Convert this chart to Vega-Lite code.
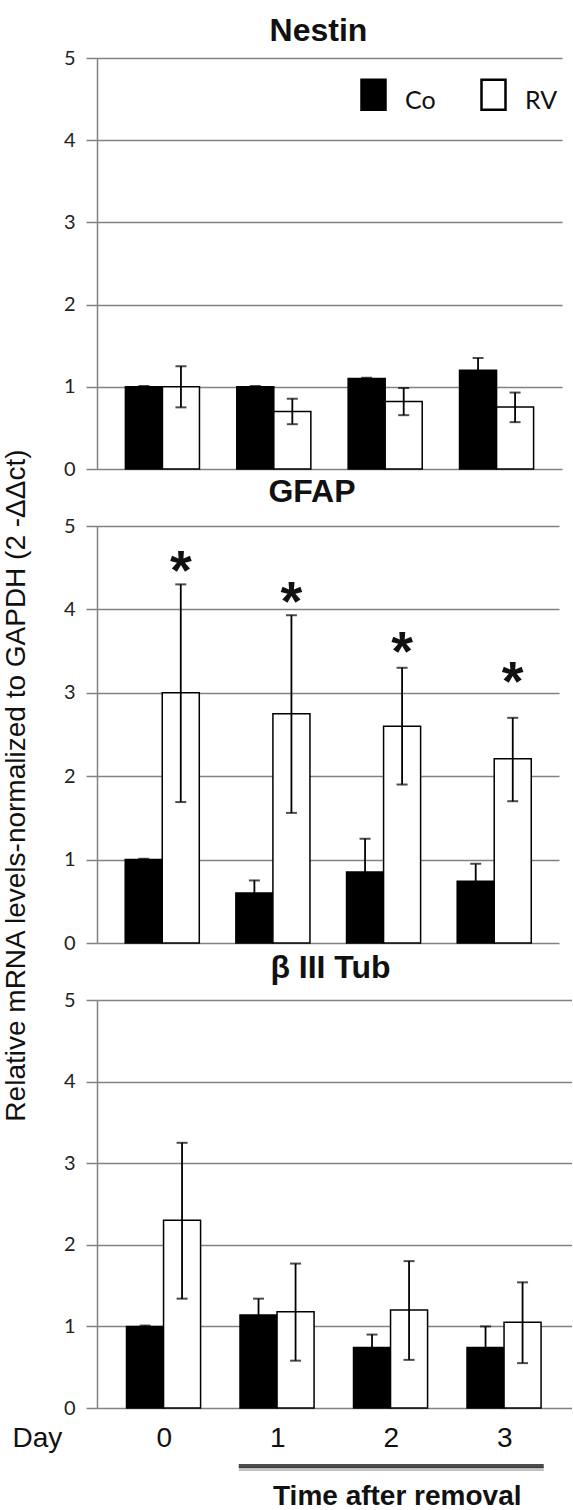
{
  "$schema": "https://vega.github.io/schema/vega-lite/v6.json",
  "background": "white",
  "padding": {"left": 2, "top": 15, "right": 0, "bottom": 0},
  "config": {
    "view": {"stroke": null},
    "font": "Liberation Sans",
    "axisY": {
      "grid": true,
      "gridColor": "#828282",
      "gridWidth": 1.5,
      "domainColor": "#828282",
      "domainWidth": 1.5,
      "tickColor": "#828282",
      "tickWidth": 1.5,
      "tickSize": 11,
      "labelFont": "Lato",
      "labelFontSize": 20,
      "labelColor": "#222222",
      "labelPadding": 11
    }
  },
  "datasets": {
    "expr": [
      {"gene": "Nestin", "day": "0", "group": "Co", "mean": 1.0, "lo": 0.99, "hi": 1.01},
      {"gene": "Nestin", "day": "0", "group": "RV", "mean": 1.0, "lo": 0.75, "hi": 1.25},
      {"gene": "Nestin", "day": "1", "group": "Co", "mean": 1.0, "lo": 0.99, "hi": 1.01},
      {"gene": "Nestin", "day": "1", "group": "RV", "mean": 0.70, "lo": 0.545, "hi": 0.855},
      {"gene": "Nestin", "day": "2", "group": "Co", "mean": 1.10, "lo": 1.09, "hi": 1.11},
      {"gene": "Nestin", "day": "2", "group": "RV", "mean": 0.82, "lo": 0.655, "hi": 0.985},
      {"gene": "Nestin", "day": "3", "group": "Co", "mean": 1.20, "lo": 1.05, "hi": 1.35},
      {"gene": "Nestin", "day": "3", "group": "RV", "mean": 0.755, "lo": 0.57, "hi": 0.93},
      {"gene": "GFAP", "day": "0", "group": "Co", "mean": 1.0, "lo": 0.99, "hi": 1.01},
      {"gene": "GFAP", "day": "0", "group": "RV", "mean": 3.0, "lo": 1.69, "hi": 4.30, "star": 4.62},
      {"gene": "GFAP", "day": "1", "group": "Co", "mean": 0.60, "lo": 0.45, "hi": 0.75},
      {"gene": "GFAP", "day": "1", "group": "RV", "mean": 2.75, "lo": 1.56, "hi": 3.93, "star": 4.25},
      {"gene": "GFAP", "day": "2", "group": "Co", "mean": 0.85, "lo": 0.45, "hi": 1.25},
      {"gene": "GFAP", "day": "2", "group": "RV", "mean": 2.60, "lo": 1.90, "hi": 3.30, "star": 3.65},
      {"gene": "GFAP", "day": "3", "group": "Co", "mean": 0.74, "lo": 0.53, "hi": 0.95},
      {"gene": "GFAP", "day": "3", "group": "RV", "mean": 2.21, "lo": 1.70, "hi": 2.70, "star": 3.28},
      {"gene": "bIII", "day": "0", "group": "Co", "mean": 1.0, "lo": 0.99, "hi": 1.01},
      {"gene": "bIII", "day": "0", "group": "RV", "mean": 2.30, "lo": 1.34, "hi": 3.25},
      {"gene": "bIII", "day": "1", "group": "Co", "mean": 1.14, "lo": 0.94, "hi": 1.34},
      {"gene": "bIII", "day": "1", "group": "RV", "mean": 1.18, "lo": 0.58, "hi": 1.77},
      {"gene": "bIII", "day": "2", "group": "Co", "mean": 0.74, "lo": 0.58, "hi": 0.90},
      {"gene": "bIII", "day": "2", "group": "RV", "mean": 1.20, "lo": 0.59, "hi": 1.80},
      {"gene": "bIII", "day": "3", "group": "Co", "mean": 0.74, "lo": 0.48, "hi": 1.00},
      {"gene": "bIII", "day": "3", "group": "RV", "mean": 1.05, "lo": 0.55, "hi": 1.54}
    ]
  },
  "bounds": "flush",
  "spacing": 57,
  "resolve": {"scale": {"fill": "independent"}, "legend": {"fill": "independent"}},
  "vconcat": [
    {
      "title": {"text": "Nestin", "fontSize": 32, "font": "Liberation Sans", "fontWeight": "bold", "color": "#111111", "baseline": "alphabetic", "offset": -25, "dx": -11},
      "width": 465,
      "height": 411,
      "data": {"name": "expr"},
      "transform": [{"filter": "datum.gene === 'Nestin'"}],
      "encoding": {
        "x": {"field": "day", "type": "nominal", "sort": ["0", "1", "2", "3"], "scale": {"paddingInner": 0.335, "paddingOuter": 0.255}, "axis": null}
      },
      "layer": [
        {
          "mark": {"type": "bar", "stroke": "black", "strokeWidth": 1.5},
          "encoding": {
            "xOffset": {"field": "group", "type": "nominal", "sort": ["Co", "RV"]},
            "y": {"field": "mean", "type": "quantitative", "scale": {"domain": [0, 5], "nice": false},
              "axis": {"values": [0, 1, 2, 3, 4, 5], "format": "d",
                "title": "Relative mRNA levels-normalized to GAPDH (2 -ΔΔct)", "titleFont": "Liberation Sans", "titleFontSize": 28, "titleFontWeight": "normal", "titleColor": "#111111", "titleX": -73, "titleY": 727, "titleBaseline": "alphabetic", "titleAngle": 270, "titleAlign": "center"}},
            "fill": {"field": "group", "type": "nominal", "scale": {"domain": ["Co", "RV"], "range": ["black", "white"]},
              "legend": {"orient": "none", "legendX": 260, "legendY": 26, "direction": "horizontal", "title": null, "padding": 0,
                "symbolType": "M-0.8,-1.4H0.8V0.6H-0.8Z", "symbolSize": 900, "symbolStrokeColor": "black", "symbolStrokeWidth": 2.5,
                "labelFont": "Lato", "labelFontSize": 25, "labelColor": "#111111", "labelOffset": 15, "columnPadding": 40, "labelBaseline": "middle"}}
          }
        },
        {
          "mark": {"type": "rule", "color": "black", "strokeWidth": 1.8},
          "encoding": {
            "xOffset": {"field": "group", "type": "nominal", "sort": ["Co", "RV"]},
            "y": {"field": "lo", "type": "quantitative"},
            "y2": {"field": "hi"}
          }
        },
        {
          "mark": {"type": "tick", "color": "black", "thickness": 2, "size": 11},
          "encoding": {
            "xOffset": {"field": "group", "type": "nominal", "sort": ["Co", "RV"]},
            "y": {"field": "lo", "type": "quantitative"}
          }
        },
        {
          "mark": {"type": "tick", "color": "black", "thickness": 2, "size": 11},
          "encoding": {
            "xOffset": {"field": "group", "type": "nominal", "sort": ["Co", "RV"]},
            "y": {"field": "hi", "type": "quantitative"}
          }
        }
      ]
    },
    {
      "title": {"text": "GFAP", "fontSize": 32, "font": "Liberation Sans", "fontWeight": "bold", "color": "#111111", "baseline": "alphabetic", "offset": -18, "dx": -16},
      "width": 462,
      "height": 417,
      "data": {"name": "expr"},
      "transform": [{"filter": "datum.gene === 'GFAP'"}],
      "encoding": {
        "x": {"field": "day", "type": "nominal", "sort": ["0", "1", "2", "3"], "scale": {"paddingInner": 0.335, "paddingOuter": 0.255}, "axis": null}
      },
      "layer": [
        {
          "mark": {"type": "bar", "stroke": "black", "strokeWidth": 1.5},
          "encoding": {
            "xOffset": {"field": "group", "type": "nominal", "sort": ["Co", "RV"]},
            "y": {"field": "mean", "type": "quantitative", "scale": {"domain": [0, 5], "nice": false},
              "axis": {"values": [0, 1, 2, 3, 4, 5], "format": "d", "title": null}},
            "fill": {"field": "group", "type": "nominal", "scale": {"domain": ["Co", "RV"], "range": ["black", "white"]}, "legend": null}
          }
        },
        {
          "mark": {"type": "rule", "color": "black", "strokeWidth": 1.8},
          "encoding": {
            "xOffset": {"field": "group", "type": "nominal", "sort": ["Co", "RV"]},
            "y": {"field": "lo", "type": "quantitative"},
            "y2": {"field": "hi"}
          }
        },
        {
          "mark": {"type": "tick", "color": "black", "thickness": 2, "size": 11},
          "encoding": {
            "xOffset": {"field": "group", "type": "nominal", "sort": ["Co", "RV"]},
            "y": {"field": "lo", "type": "quantitative"}
          }
        },
        {
          "mark": {"type": "tick", "color": "black", "thickness": 2, "size": 11},
          "encoding": {
            "xOffset": {"field": "group", "type": "nominal", "sort": ["Co", "RV"]},
            "y": {"field": "hi", "type": "quantitative"}
          }
        },
        {
          "transform": [{"filter": "datum.star != null"}],
          "mark": {"type": "text", "text": "*", "font": "Liberation Sans", "fontSize": 56, "fontWeight": "bold", "baseline": "alphabetic", "dy": 31, "color": "#111111"},
          "encoding": {
            "xOffset": {"field": "group", "type": "nominal", "sort": ["Co", "RV"]},
            "y": {"field": "star", "type": "quantitative"}
          }
        }
      ]
    },
    {
      "title": {"text": "β III Tub", "fontSize": 32, "font": "Liberation Sans", "fontWeight": "bold", "color": "#111111", "baseline": "alphabetic", "offset": -20, "dx": -4},
      "width": 475,
      "height": 408,
      "data": {"name": "expr"},
      "transform": [{"filter": "datum.gene === 'bIII'"}],
      "encoding": {
        "x": {"field": "day", "type": "nominal", "sort": ["0", "1", "2", "3"], "scale": {"paddingInner": 0.335, "paddingOuter": 0.26},
          "axis": {"title": "Day", "labelAngle": 0, "domain": false, "ticks": false, "tickSize": 0, "labelFont": "Liberation Sans", "labelFontSize": 28, "labelColor": "#111111", "labelPadding": 38, "labelBaseline": "alphabetic",
            "titleFont": "Liberation Sans", "titleFontSize": 28, "titleFontWeight": "normal", "titleColor": "#111111", "titleX": -85, "titleY": 38, "titleAlign": "left", "titleBaseline": "alphabetic", "titleAnchor": "start"}}
      },
      "layer": [
        {
          "mark": {"type": "bar", "stroke": "black", "strokeWidth": 1.5},
          "encoding": {
            "xOffset": {"field": "group", "type": "nominal", "sort": ["Co", "RV"]},
            "y": {"field": "mean", "type": "quantitative", "scale": {"domain": [0, 5], "nice": false},
              "axis": {"values": [0, 1, 2, 3, 4, 5], "format": "d", "title": null}},
            "fill": {"field": "group", "type": "nominal", "scale": {"domain": ["Co", "RV"], "range": ["black", "white"]}, "legend": null}
          }
        },
        {
          "mark": {"type": "rule", "color": "black", "strokeWidth": 1.8},
          "encoding": {
            "xOffset": {"field": "group", "type": "nominal", "sort": ["Co", "RV"]},
            "y": {"field": "lo", "type": "quantitative"},
            "y2": {"field": "hi"}
          }
        },
        {
          "mark": {"type": "tick", "color": "black", "thickness": 2, "size": 11},
          "encoding": {
            "xOffset": {"field": "group", "type": "nominal", "sort": ["Co", "RV"]},
            "y": {"field": "lo", "type": "quantitative"}
          }
        },
        {
          "mark": {"type": "tick", "color": "black", "thickness": 2, "size": 11},
          "encoding": {
            "xOffset": {"field": "group", "type": "nominal", "sort": ["Co", "RV"]},
            "y": {"field": "hi", "type": "quantitative"}
          }
        },
        {
          "data": {"values": [{"day": "2", "label": "Time after removal"}]},
          "mark": {"type": "tick", "color": "#9a9a9a", "size": 305, "thickness": 4, "opacity": 0.6, "yOffset": 3, "clip": false},
          "encoding": {
            "y": {"datum": -0.71}
          }
        },
        {
          "data": {"values": [{"day": "2", "label": "Time after removal"}]},
          "mark": {"type": "tick", "color": "black", "size": 305, "thickness": 4, "clip": false},
          "encoding": {
            "y": {"datum": -0.71}
          }
        },
        {
          "data": {"values": [{"day": "2", "label": "Time after removal"}]},
          "mark": {"type": "text", "font": "Liberation Sans", "fontSize": 28, "fontWeight": "bold", "baseline": "alphabetic", "dx": 6, "color": "#111111", "clip": false},
          "encoding": {
            "y": {"datum": -1.19},
            "text": {"field": "label"}
          }
        }
      ]
    }
  ]
}
